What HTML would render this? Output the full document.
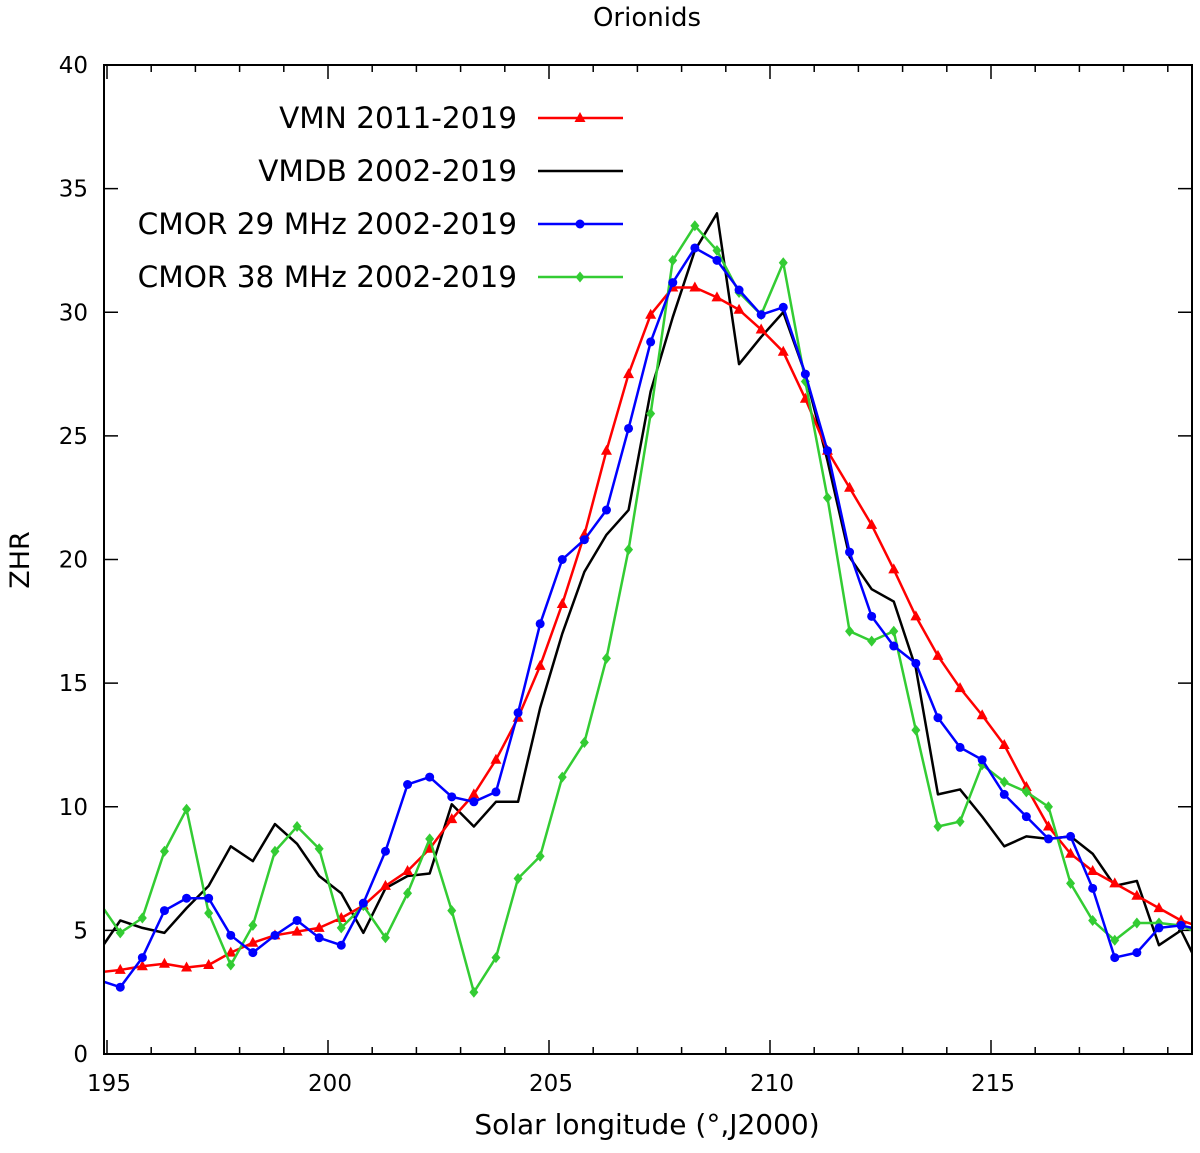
<!DOCTYPE html>
<html><head><meta charset="utf-8"><style>
body{margin:0;background:#fff}
svg text{font-family:"DejaVu Sans","Liberation Sans",sans-serif;fill:#000}
</style></head><body>
<svg id="chart" width="1200" height="1148" xmlns="http://www.w3.org/2000/svg">
<text x="647" y="26" font-size="26" text-anchor="middle">Orionids</text>
<text x="647" y="1134" font-size="28" text-anchor="middle">Solar longitude (°,J2000)</text>
<text transform="translate(29,560) rotate(-90)" font-size="27" text-anchor="middle">ZHR</text>
<g id="axes"></g>
<defs><clipPath id="clip"><rect x="104" y="65" width="1088" height="989"/></clipPath></defs>
<g id="series" clip-path="url(#clip)"></g>
<g id="legend"></g>
<rect x="104" y="65" width="1088" height="989" fill="none" stroke="#000" stroke-width="2"/>
</svg>
<script>
const xTicks=[195,200,205,210,215];
const yTicks=[0,5,10,15,20,25,30,35,40];
const longitudes=[194.8,195.3,195.8,196.3,196.8,197.3,197.8,198.3,198.8,199.3,199.8,200.3,200.8,201.3,201.8,202.3,202.8,203.3,203.8,204.3,204.8,205.3,205.8,206.3,206.8,207.3,207.8,208.3,208.8,209.3,209.8,210.3,210.8,211.3,211.8,212.3,212.8,213.3,213.8,214.3,214.8,215.3,215.8,216.3,216.8,217.3,217.8,218.3,218.8,219.3,219.8];
const vmn=[3.3,3.4,3.55,3.65,3.5,3.6,4.1,4.5,4.8,4.95,5.1,5.5,6.0,6.8,7.4,8.3,9.5,10.5,11.9,13.6,15.7,18.2,21.0,24.4,27.5,29.9,31.0,31.0,30.6,30.1,29.3,28.4,26.5,24.4,22.9,21.4,19.6,17.7,16.1,14.8,13.7,12.5,10.8,9.2,8.1,7.4,6.9,6.4,5.9,5.4,5.1];
const vmdb=[4.1,5.4,5.1,4.9,5.9,6.8,8.4,7.8,9.3,8.5,7.2,6.5,4.9,6.7,7.2,7.3,10.1,9.2,10.2,10.2,14.0,17.0,19.5,21.0,22.0,26.8,29.8,32.5,34.0,27.9,29.0,30.0,27.5,24.0,20.1,18.8,18.3,15.6,10.5,10.7,9.6,8.4,8.8,8.7,8.8,8.1,6.8,7.0,4.4,5.0,3.2];
const cmor29=[3.0,2.7,3.9,5.8,6.3,6.3,4.8,4.1,4.8,5.4,4.7,4.4,6.1,8.2,10.9,11.2,10.4,10.2,10.6,13.8,17.4,20.0,20.8,22.0,25.3,28.8,31.2,32.6,32.1,30.9,29.9,30.2,27.5,24.4,20.3,17.7,16.5,15.8,13.6,12.4,11.9,10.5,9.6,8.7,8.8,6.7,3.9,4.1,5.1,5.2,5.0];
const cmor38=[6.2,4.9,5.5,8.2,9.9,5.7,3.6,5.2,8.2,9.2,8.3,5.1,6.0,4.7,6.5,8.7,5.8,2.5,3.9,7.1,8.0,11.2,12.6,16.0,20.4,25.9,32.1,33.5,32.5,30.8,29.9,32.0,27.2,22.5,17.1,16.7,17.1,13.1,9.2,9.4,11.7,11.0,10.6,10.0,6.9,5.4,4.6,5.3,5.3,5.2,4.8];
const seriesNames=["VMN 2011-2019","VMDB 2002-2019","CMOR 29 MHz 2002-2019","CMOR 38 MHz 2002-2019"];

const NS="http://www.w3.org/2000/svg";
const X0=104,X1=1192,Y0=1054,Y1=65;
function xs(v){return 107+(v-195)*44.2;}
function ys(v){return Y0-(v/40)*(Y0-Y1);}
function mk(tag,attrs,parent){const e=document.createElementNS(NS,tag);for(const k in attrs)e.setAttribute(k,attrs[k]);parent.appendChild(e);return e;}
const axes=document.getElementById('axes');
for(let v=195;v<=219;v++){
  const x=xs(v);const major=xTicks.includes(v);const L=major?14:7;
  const t=mk('line',{x1:x,x2:x,y1:Y0,y2:Y0-L,stroke:'#000','stroke-width':1.5},axes);
  
  
  const t2=mk('line',{x1:x,x2:x,y1:Y1,y2:Y1+L,stroke:'#000','stroke-width':1.5},axes);
  
  
}
xTicks.forEach(v=>{
  const t=mk('text',{x:xs(v)+2,y:1091,'font-size':23,'text-anchor':'middle'},axes);t.textContent=v;
  
  
});
yTicks.forEach(v=>{
  const y=ys(v);
  const a=mk('line',{x1:X0,x2:X0+14,y1:y,y2:y,stroke:'#000','stroke-width':1.5},axes);
  
  
  const b=mk('line',{x1:X1,x2:X1-14,y1:y,y2:y,stroke:'#000','stroke-width':1.5},axes);
  
  
  const t=mk('text',{x:88,y:y+8,'font-size':23,'text-anchor':'end'},axes);t.textContent=v;
  
  
});
function marker(type,x,y,color,parent){
  let e;
  if(type==='tri') e=mk('polygon',{points:`${x},${y-6} ${x-5.5},${y+4} ${x+5.5},${y+4}`,fill:color},parent);
  else if(type==='circ') e=mk('circle',{cx:x,cy:y,r:4.5,fill:color},parent);
  else e=mk('polygon',{points:`${x},${y-5.5} ${x+4.5},${y} ${x},${y+5.5} ${x-4.5},${y}`,fill:color},parent);
  return e;
}
const sg=document.getElementById('series');
const defs=[[vmdb,'#000',null,'vmdb'],[vmn,'#ff0000','tri','vmn'],[cmor38,'#33cc33','dia','cmor38'],[cmor29,'#0000ff','circ','cmor29']];
defs.forEach(([vals,color,m,name])=>{
  const g=mk('g',{},sg);
  
  
  const pts=vals.map((v,i)=>xs(longitudes[i])+','+ys(v)).join(' ');
  const pl=mk('polyline',{points:pts,fill:'none',stroke:color,'stroke-width':2.5,'stroke-linejoin':'round'},g);
  
  
  if(m) vals.forEach((v,i)=>{
    const e=marker(m,xs(longitudes[i]),ys(v),color,g);
    
    
  });
});
const lg=document.getElementById('legend');


const legDefs=[['#ff0000','tri'],['#000',null],['#0000ff','circ'],['#33cc33','dia']];
seriesNames.forEach((n,i)=>{
  const y=118+i*53;
  const g=mk('g',{},lg);
  
  
  const t=mk('text',{x:517,y:y+10,'font-size':29.5,'text-anchor':'end'},g);t.textContent=n;
  mk('line',{x1:538,x2:623,y1:y,y2:y,stroke:legDefs[i][0],'stroke-width':2.5},g);
  if(legDefs[i][1]) marker(legDefs[i][1],580,y,legDefs[i][0],g);
});
</script>
</body></html>
